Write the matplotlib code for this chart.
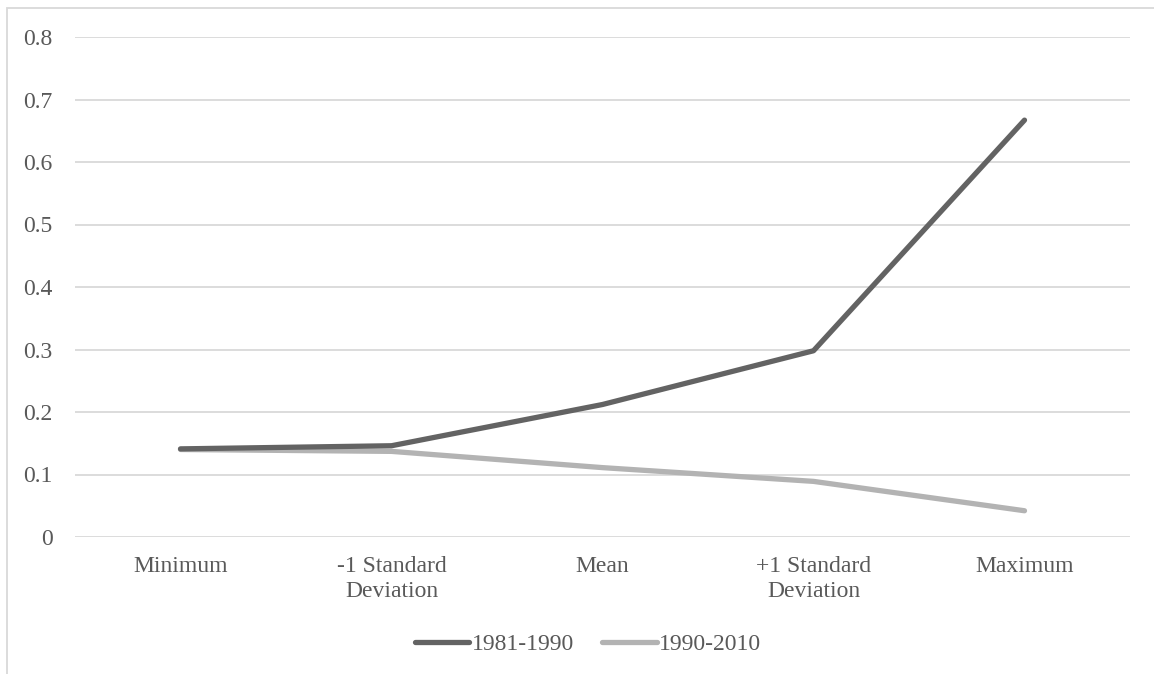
import matplotlib.pyplot as plt
from matplotlib.patches import Rectangle

# Data
categories = ["Minimum", "-1 Standard\nDeviation", "Mean", "+1 Standard\nDeviation", "Maximum"]
series_1981_1990 = [0.141, 0.146, 0.212, 0.298, 0.667]
series_1990_2010 = [0.140, 0.137, 0.111, 0.089, 0.042]
y_ticks = [0, 0.1, 0.2, 0.3, 0.4, 0.5, 0.6, 0.7, 0.8]
y_labels = ["0", "0.1", "0.2", "0.3", "0.4", "0.5", "0.6", "0.7", "0.8"]

plt.rcParams["font.family"] = ["Liberation Serif", "DejaVu Serif"]
text_color = "#595959"
grid_color = "#d9d9d9"

W, H = 1154, 674
fig = plt.figure(figsize=(W / 100, H / 100), dpi=100)

# chart border (light gray, runs off the right/bottom edge like the original)
fig.patches.append(Rectangle((7 / W, -0.2), 1.2, 1 - 8 / H + 0.2, transform=fig.transFigure,
                             fill=False, edgecolor=grid_color, linewidth=1.3))

ax = fig.add_axes([75 / W, 1 - 537 / H, (1130 - 75) / W, (537 - 37) / H])

x = list(range(len(categories)))
ax.plot(x, series_1981_1990, color="#636363", linewidth=3.8, solid_capstyle="round",
        solid_joinstyle="round", label="1981-1990", zorder=3)
ax.plot(x, series_1990_2010, color="#b3b3b3", linewidth=3.8, solid_capstyle="round",
        solid_joinstyle="round", label="1990-2010", zorder=2)

ax.set_xlim(-0.5, len(categories) - 0.5)
ax.set_ylim(0, 0.8)
ax.set_yticks(y_ticks)
ax.set_yticklabels(y_labels)
ax.set_xticks(x)
ax.set_xticklabels(categories, linespacing=1.25)

ax.grid(axis="y", color=grid_color, linewidth=1.3)
ax.set_axisbelow(True)
for s in ax.spines.values():
    s.set_visible(False)
ax.tick_params(axis="both", length=0, labelsize=17, colors=text_color)
ax.tick_params(axis="y", pad=16)
ax.tick_params(axis="x", pad=14)
for lbl in ax.get_xticklabels():
    lbl.set_verticalalignment("top")

leg = fig.legend(loc="center", bbox_to_anchor=(588 / W, 1 - 644 / H), ncol=2, frameon=False,
                 fontsize=17, handlelength=2.3, handletextpad=0.1, columnspacing=1.2)
for t in leg.get_texts():
    t.set_color(text_color)

fig.savefig("out.png", dpi=100)
